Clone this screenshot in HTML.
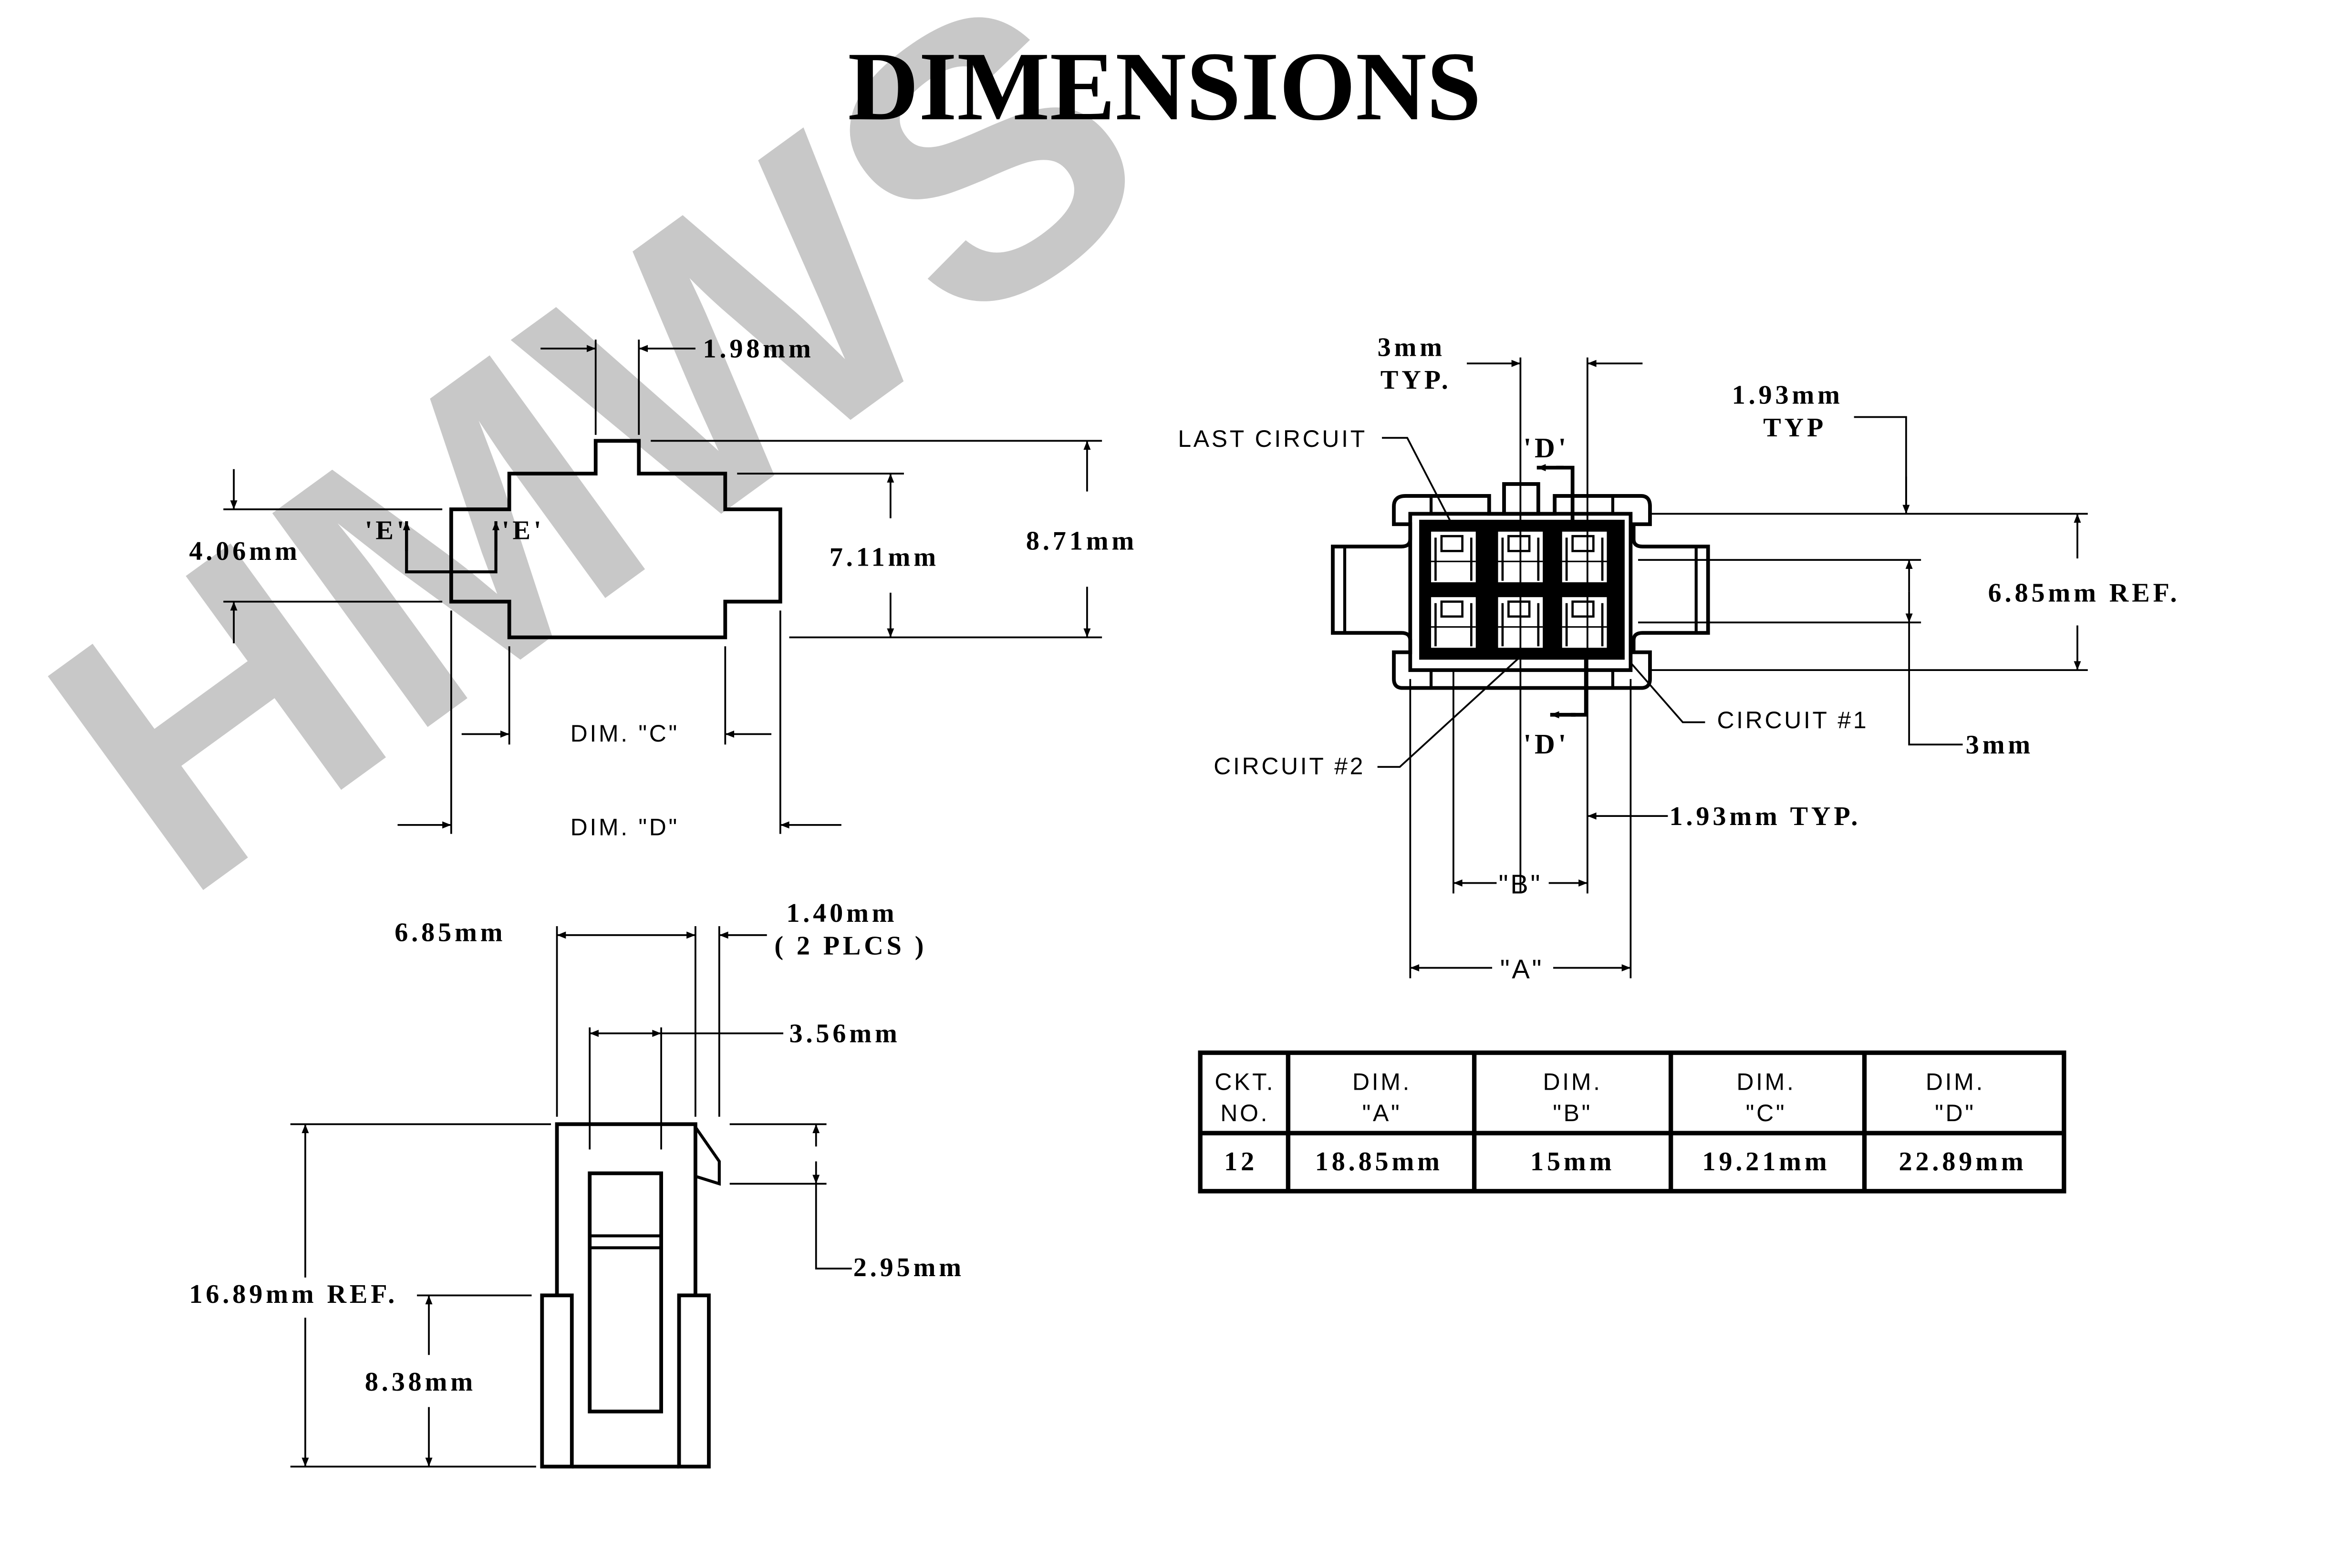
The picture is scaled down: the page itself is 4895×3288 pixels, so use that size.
<!DOCTYPE html>
<html><head><meta charset="utf-8"><style>
html,body{margin:0;padding:0;background:#fff;}
svg{display:block;}
.b{font-family:"Liberation Serif",serif;font-weight:bold;font-size:18px;letter-spacing:2.2px;fill:#000;}
.t{font-family:"Liberation Sans",sans-serif;font-size:16px;letter-spacing:1.5px;fill:#000;}
</style></head><body>
<svg width="4895" height="3288" viewBox="0 0 1568 1053" xmlns="http://www.w3.org/2000/svg">
<defs>
<marker id="a" viewBox="0 0 10 10" refX="10" refY="5" markerWidth="10" markerHeight="6" orient="auto-start-reverse" markerUnits="userSpaceOnUse"><path d="M0,1 L10,5 L0,9 z" fill="#000"/></marker>
</defs>
<rect width="1568" height="1053" fill="#fff"/>
<text x="400" y="385" transform="rotate(-36 400 295)" text-anchor="middle" font-family="Liberation Sans,sans-serif" font-weight="bold" font-size="258" fill="#c8c8c8">HMWS</text>
<text x="782" y="80" text-anchor="middle" font-family="Liberation Serif,serif" font-weight="bold" font-size="66" fill="#000">DIMENSIONS</text>

<g stroke="#000" fill="none" stroke-width="1.2">
<polygon points="342,428 342,404 303,404 303,342 342,342 342,318 400,318 400,296 429,296 429,318 487,318 487,342 524,342 524,404 487,404 487,428" stroke-width="2.5"/>
<line x1="437" y1="296" x2="740" y2="296"/><line x1="495" y1="318" x2="607" y2="318"/>
<line x1="530" y1="428" x2="740" y2="428"/>
<line x1="150" y1="342" x2="297" y2="342"/><line x1="150" y1="404" x2="297" y2="404"/>
<line x1="157" y1="315" x2="157" y2="342" marker-end="url(#a)"/><line x1="157" y1="432" x2="157" y2="404" marker-end="url(#a)"/>
<line x1="598" y1="318" x2="598" y2="348" marker-start="url(#a)"/><line x1="598" y1="398" x2="598" y2="428" marker-end="url(#a)"/>
<line x1="730" y1="296" x2="730" y2="330" marker-start="url(#a)"/><line x1="730" y1="394" x2="730" y2="428" marker-end="url(#a)"/>
<line x1="400" y1="228" x2="400" y2="292"/><line x1="429" y1="228" x2="429" y2="292"/>
<line x1="363" y1="234" x2="400" y2="234" marker-end="url(#a)"/><line x1="467" y1="234" x2="429" y2="234" marker-end="url(#a)"/>
<polyline points="273,355 273,384 333,384 333,355" stroke-width="2"/>
<line x1="273" y1="370" x2="273" y2="350" marker-end="url(#a)" stroke-width="2"/><line x1="333" y1="370" x2="333" y2="350" marker-end="url(#a)" stroke-width="2"/>
<line x1="303" y1="410" x2="303" y2="560"/><line x1="342" y1="434" x2="342" y2="500"/><line x1="487" y1="434" x2="487" y2="500"/><line x1="524" y1="410" x2="524" y2="560"/>
<line x1="310" y1="493" x2="342" y2="493" marker-end="url(#a)"/><line x1="518" y1="493" x2="487" y2="493" marker-end="url(#a)"/>
<line x1="267" y1="554" x2="303" y2="554" marker-end="url(#a)"/><line x1="565" y1="554" x2="524" y2="554" marker-end="url(#a)"/>

<path d="M944,333 H1000 V345 H1044 V333 H1102 Q1108,333 1108,340 V352 H1097 V362 Q1097,367 1103,367 H1147 V425 H1103 Q1097,425 1097,430 V438 H1108 V456 Q1108,462 1102,462 H942 Q936,462 936,456 V438 H947 V430 Q947,425 941,425 H895 V367 H941 Q947,367 947,362 V352 H936 V340 Q936,333 944,333 Z" stroke-width="2.5"/>
<rect x="947" y="345" width="148" height="105" stroke-width="2.5"/>
<rect x="1010" y="325" width="23" height="20" stroke-width="2.5"/>
<line x1="903" y1="367" x2="903" y2="425" stroke-width="2"/><line x1="1139" y1="367" x2="1139" y2="425" stroke-width="2"/>
<line x1="961" y1="333" x2="961" y2="345" stroke-width="2"/><line x1="1083" y1="333" x2="1083" y2="345" stroke-width="2"/>
<line x1="961" y1="450" x2="961" y2="462" stroke-width="2"/><line x1="1083" y1="450" x2="1083" y2="462" stroke-width="2"/>
</g>
<g fill="#000">
<rect x="953" y="349" width="138" height="94"/>
</g>
<g fill="#fff" stroke="none">
<rect x="961" y="357" width="30" height="34"/><rect x="1006" y="357" width="30" height="34"/><rect x="1049" y="357" width="30" height="34"/>
<rect x="961" y="401" width="30" height="34"/><rect x="1006" y="401" width="30" height="34"/><rect x="1049" y="401" width="30" height="34"/>
</g>
<g stroke="#000" fill="none" stroke-width="1.5">
<rect x="968" y="360" width="14" height="10"/><rect x="1013" y="360" width="14" height="10"/><rect x="1056" y="360" width="14" height="10"/>
<rect x="968" y="404" width="14" height="10"/><rect x="1013" y="404" width="14" height="10"/><rect x="1056" y="404" width="14" height="10"/>
<line x1="964" y1="361" x2="964" y2="390"/><line x1="988" y1="361" x2="988" y2="390"/>
<line x1="1009" y1="361" x2="1009" y2="390"/><line x1="1033" y1="361" x2="1033" y2="390"/>
<line x1="1052" y1="361" x2="1052" y2="390"/><line x1="1076" y1="361" x2="1076" y2="390"/>
<line x1="964" y1="405" x2="964" y2="434"/><line x1="988" y1="405" x2="988" y2="434"/>
<line x1="1009" y1="405" x2="1009" y2="434"/><line x1="1033" y1="405" x2="1033" y2="434"/>
<line x1="1052" y1="405" x2="1052" y2="434"/><line x1="1076" y1="405" x2="1076" y2="434"/>
<line x1="961" y1="377" x2="991" y2="377" stroke-width="1"/><line x1="1006" y1="377" x2="1036" y2="377" stroke-width="1"/><line x1="1049" y1="377" x2="1079" y2="377" stroke-width="1"/>
<line x1="961" y1="421" x2="991" y2="421" stroke-width="1"/><line x1="1006" y1="421" x2="1036" y2="421" stroke-width="1"/><line x1="1049" y1="421" x2="1079" y2="421" stroke-width="1"/>
</g>
<g stroke="#000" fill="none" stroke-width="1.2">
<line x1="1021" y1="240" x2="1021" y2="600"/><line x1="1066" y1="240" x2="1066" y2="600"/>
<line x1="985" y1="244" x2="1021" y2="244" marker-end="url(#a)"/><line x1="1103" y1="244" x2="1066" y2="244" marker-end="url(#a)"/>
<polyline points="1245,280 1280,280 1280,345" /><line x1="1280" y1="320" x2="1280" y2="345" marker-end="url(#a)"/>
<line x1="1108" y1="345" x2="1402" y2="345"/><line x1="1100" y1="376" x2="1290" y2="376"/><line x1="1100" y1="418" x2="1290" y2="418"/><line x1="1108" y1="450" x2="1402" y2="450"/>
<line x1="1395" y1="345" x2="1395" y2="375" marker-start="url(#a)"/><line x1="1395" y1="420" x2="1395" y2="450" marker-end="url(#a)"/>
<line x1="1282" y1="397" x2="1282" y2="376" marker-end="url(#a)"/><line x1="1282" y1="397" x2="1282" y2="418" marker-end="url(#a)"/>
<polyline points="1282,418 1282,500 1318,500"/>
<polyline points="1056,352 1056,314 1045,314" stroke-width="2.5"/><line x1="1050" y1="314" x2="1032" y2="314" marker-end="url(#a)" stroke-width="2.5"/>
<polyline points="1065,440 1065,480 1055,480" stroke-width="2.5"/><line x1="1058" y1="480" x2="1041" y2="480" marker-end="url(#a)" stroke-width="2.5"/>
<polyline points="928,294 945,294 975,352"/>
<polyline points="925,515 940,515 1022,440"/>
<polyline points="1145,485 1130,485 1095,445"/>
<line x1="947" y1="456" x2="947" y2="657"/><line x1="976" y1="450" x2="976" y2="600"/><line x1="1095" y1="456" x2="1095" y2="657"/>
<line x1="1066" y1="548" x2="1095" y2="548" marker-start="url(#a)"/><line x1="1095" y1="548" x2="1120" y2="548"/>
<line x1="1005" y1="593" x2="976" y2="593" marker-end="url(#a)"/><line x1="1040" y1="593" x2="1066" y2="593" marker-end="url(#a)"/>
<line x1="1002" y1="650" x2="947" y2="650" marker-end="url(#a)"/><line x1="1043" y1="650" x2="1095" y2="650" marker-end="url(#a)"/>

<polyline points="374,870 374,755 467,755 467,870" stroke-width="2.5"/>
<rect x="364" y="870" width="20" height="115" stroke-width="2.5"/><rect x="456" y="870" width="20" height="115" stroke-width="2.5"/>
<line x1="384" y1="985" x2="456" y2="985" stroke-width="2.5"/>
<rect x="396" y="788" width="48" height="160" stroke-width="2.5"/>
<line x1="396" y1="830" x2="444" y2="830" stroke-width="2"/><line x1="396" y1="838" x2="444" y2="838" stroke-width="2"/>
<polyline points="467,757 483,780 483,795 467,790" stroke-width="2"/>
<line x1="374" y1="622" x2="374" y2="750"/><line x1="467" y1="622" x2="467" y2="750"/><line x1="483" y1="622" x2="483" y2="750"/>
<line x1="374" y1="628" x2="467" y2="628" marker-start="url(#a)" marker-end="url(#a)"/>
<line x1="515" y1="628" x2="483" y2="628" marker-end="url(#a)"/>
<line x1="396" y1="690" x2="396" y2="772"/><line x1="444" y1="690" x2="444" y2="772"/>
<line x1="396" y1="694" x2="444" y2="694" marker-start="url(#a)" marker-end="url(#a)"/><line x1="444" y1="694" x2="526" y2="694"/>
<line x1="490" y1="755" x2="555" y2="755"/><line x1="490" y1="795" x2="555" y2="795"/>
<line x1="548" y1="755" x2="548" y2="770" marker-start="url(#a)"/><line x1="548" y1="780" x2="548" y2="795" marker-end="url(#a)"/>
<polyline points="548,795 548,852 572,852"/>
<line x1="195" y1="755" x2="370" y2="755"/><line x1="195" y1="985" x2="360" y2="985"/>
<line x1="205" y1="755" x2="205" y2="858" marker-start="url(#a)"/><line x1="205" y1="885" x2="205" y2="985" marker-end="url(#a)"/>
<line x1="280" y1="870" x2="357" y2="870"/>
<line x1="288" y1="870" x2="288" y2="910" marker-start="url(#a)"/><line x1="288" y1="945" x2="288" y2="985" marker-end="url(#a)"/>

<rect x="806" y="707" width="580" height="93" stroke-width="3"/>
<line x1="806" y1="761" x2="1386" y2="761" stroke-width="3"/>
<line x1="865" y1="707" x2="865" y2="800" stroke-width="3"/><line x1="990" y1="707" x2="990" y2="800" stroke-width="3"/>
<line x1="1122" y1="707" x2="1122" y2="800" stroke-width="3"/><line x1="1252" y1="707" x2="1252" y2="800" stroke-width="3"/>
</g>

<g class="b">
<text x="472" y="240">1.98mm</text>
<text x="127" y="376">4.06mm</text>
<text x="557" y="380">7.11mm</text>
<text x="689" y="369">8.71mm</text>
<text x="245" y="362">'E'</text><text x="337" y="362">'E'</text>
<text x="925" y="239">3mm</text><text x="927" y="261">TYP.</text>
<text x="1163" y="271">1.93mm</text><text x="1184" y="293">TYP</text>
<text x="1335" y="404">6.85mm REF.</text>
<text x="1320" y="506">3mm</text>
<text x="1121" y="554">1.93mm TYP.</text>
<text x="1023" y="307" font-size="19">'D'</text><text x="1023" y="506" font-size="19">'D'</text>
<text x="265" y="632">6.85mm</text>
<text x="528" y="619">1.40mm</text><text x="520" y="641">( 2 PLCS )</text>
<text x="530" y="700">3.56mm</text>
<text x="573" y="857">2.95mm</text>
<text x="127" y="875">16.89mm REF.</text>
<text x="245" y="934">8.38mm</text>
<text x="822" y="786">12</text>
<text x="926" y="786" text-anchor="middle">18.85mm</text>
<text x="1056" y="786" text-anchor="middle">15mm</text>
<text x="1186" y="786" text-anchor="middle">19.21mm</text>
<text x="1318" y="786" text-anchor="middle">22.89mm</text>
</g>
<g class="t">
<text x="383" y="498">DIM. "C"</text>
<text x="383" y="561">DIM. "D"</text>
<text x="791" y="300">LAST CIRCUIT</text>
<text x="815" y="520">CIRCUIT #2</text>
<text x="1153" y="489">CIRCUIT #1</text>
<text x="1021" y="600" text-anchor="middle" font-size="18">"B"</text>
<text x="1022" y="657" text-anchor="middle" font-size="18">"A"</text>
<text x="836" y="732" text-anchor="middle">CKT.</text><text x="836" y="753" text-anchor="middle">NO.</text>
<text x="928" y="732" text-anchor="middle">DIM.</text><text x="928" y="753" text-anchor="middle">"A"</text>
<text x="1056" y="732" text-anchor="middle">DIM.</text><text x="1056" y="753" text-anchor="middle">"B"</text>
<text x="1186" y="732" text-anchor="middle">DIM.</text><text x="1186" y="753" text-anchor="middle">"C"</text>
<text x="1313" y="732" text-anchor="middle">DIM.</text><text x="1313" y="753" text-anchor="middle">"D"</text>
</g>
</svg>
</body></html>
